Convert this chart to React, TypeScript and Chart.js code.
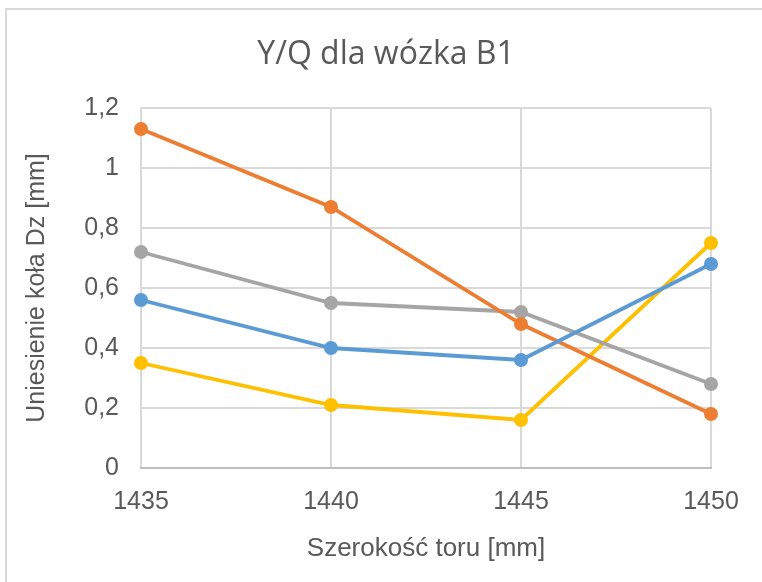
import React, { useEffect, useRef } from "react";
import { Chart, registerables } from "chart.js";

Chart.register(...registerables);

const categories = ["1435", "1440", "1445", "1450"];
const seriesBlue = [0.56, 0.4, 0.36, 0.68];
const seriesOrange = [1.13, 0.87, 0.48, 0.18];
const seriesGray = [0.72, 0.55, 0.52, 0.28];
const seriesYellow = [0.35, 0.21, 0.16, 0.75];
const seriesNames = ["Seria1", "Seria2", "Seria3", "Seria4"];
const seriesColors = ["#5B9BD5", "#ED7D31", "#A5A5A5", "#FFC000"];
const titleText = "Y/Q dla wózka B1";
const xTitle = "Szerokość toru [mm]";
const yTitle = "Uniesienie koła Dz [mm]";

const axisFont = "'Liberation Sans', Arial, sans-serif";

const centeredTitle = {
  id: "centeredTitle",
  afterDraw(chart: any) {
    const ctx = chart.ctx;
    ctx.save();
    ctx.font = "normal 32px 'Open Sans'";
    ctx.fillStyle = "#595959";
    ctx.textAlign = "center";
    ctx.textBaseline = "middle";
    ctx.fillText(titleText, (chart.width + 10) / 2, 55);
    ctx.restore();
  },
};

export default function App() {
  const ref = useRef<HTMLCanvasElement | null>(null);

  useEffect(() => {
    if (!ref.current) return;
    const values = [seriesBlue, seriesOrange, seriesGray, seriesYellow];
    const chart = new Chart(ref.current, {
      type: "line",
      data: {
        labels: categories,
        datasets: values.map((v, i) => ({
          label: seriesNames[i],
          data: v,
          borderColor: seriesColors[i],
          backgroundColor: seriesColors[i],
          borderWidth: 3.8,
          pointRadius: 7,
          pointHoverRadius: 7,
          pointBorderWidth: 0,
          tension: 0,
        })),
      },
      plugins: [centeredTitle],
      options: {
        responsive: false,
        animation: false,
        layout: { padding: { left: 8, right: 51, top: 108, bottom: 0 } },
        plugins: {
          legend: { display: false },
          tooltip: { enabled: false },
          title: { display: false },
        },
        scales: {
          x: {
            offset: false,
            grid: { color: "#d9d9d9", lineWidth: 2, drawTicks: false },
            border: { color: "#bfbfbf", width: 2 },
            ticks: {
              color: "#595959",
              padding: 19,
              font: { family: axisFont, size: 25 },
              maxRotation: 0,
            },
            title: {
              display: true,
              text: xTitle,
              color: "#595959",
              font: { family: axisFont, size: 26, lineHeight: 1.2 },
              padding: { top: 0, bottom: 18 },
            },
            afterFit: (s: any) => {
              s.height = 114;
            },
          },
          y: {
            min: 0,
            max: 1.2,
            grid: { color: "#d9d9d9", lineWidth: 2, drawTicks: false },
            border: { display: false },
            ticks: {
              stepSize: 0.2,
              color: "#595959",
              padding: 22,
              font: { family: axisFont, size: 25 },
              callback: (v: any) => {
                const n = Math.round(Number(v) * 10) / 10;
                return String(n).replace(".", ",");
              },
            },
            title: {
              display: true,
              text: yTitle,
              color: "#595959",
              font: { family: axisFont, size: 25, lineHeight: 1.2 },
              padding: { top: 14, bottom: 0 },
            },
            afterFit: (s: any) => {
              s.width = 133;
            },
          },
        },
      },
    });
    return () => chart.destroy();
  }, []);

  return (
    <div style={{ position: "fixed", left: 0, top: 0, width: 762, height: 582, background: "#fff", overflow: "hidden" }}>
      <div
        style={{
          position: "absolute",
          left: 5,
          top: 8,
          width: 800,
          height: 700,
          border: "2px solid #d9d9d9",
          boxSizing: "border-box",
        }}
      />
      <canvas ref={ref} width={762} height={582} style={{ position: "absolute", left: 0, top: 0 }} />
    </div>
  );
}
